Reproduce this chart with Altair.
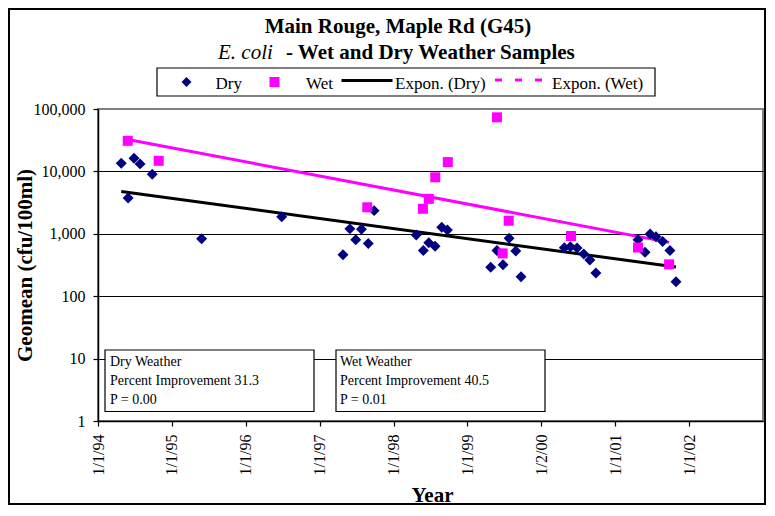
import altair as alt
import pandas as pd

# ---------------- data ----------------
dry_dates = ["1994-04-26", "1994-05-30", "1994-06-28", "1994-07-28", "1994-09-26",
             "1995-05-28", "1996-06-27",
             "1997-04-26", "1997-05-30", "1997-06-28", "1997-07-26", "1997-08-29", "1997-09-27",
             "1998-04-23", "1998-05-28", "1998-06-24", "1998-07-25", "1998-08-27", "1998-09-24",
             "1999-04-26", "1999-05-27", "1999-06-26", "1999-07-26", "1999-08-28", "1999-09-23",
             "2000-04-24", "2000-05-24", "2000-06-26", "2000-07-29", "2000-08-28", "2000-09-27",
             "2001-04-23", "2001-05-28", "2001-06-22", "2001-07-21", "2001-08-23", "2001-09-28",
             "2001-10-28"]
dry_values = [13500, 3750, 16200, 13200, 9000,
              830, 1880,
              460, 1200, 800, 1180, 700, 2350,
              960, 540, 720, 630, 1270, 1150,
              290, 540, 320, 850, 530, 205,
              600, 620, 590, 475, 380, 235,
              800, 505, 990, 900, 750, 540,
              170]

wet_dates = ["1994-05-28", "1994-10-28", "1997-08-24", "1998-05-26", "1998-06-24",
             "1998-07-26", "1998-09-26", "1999-05-27", "1999-06-24", "1999-07-24",
             "2000-05-27", "2001-04-23", "2001-09-24"]
wet_values = [30900, 14800, 2660, 2520, 3630, 8040, 14100, 73600, 486, 1620, 922, 603, 324]

x_tick_dates = [(1994, 1, 1), (1995, 1, 1), (1996, 1, 1), (1997, 1, 1), (1998, 1, 1),
                (1999, 1, 1), (2000, 1, 2), (2001, 1, 1), (2002, 1, 1)]
x_domain = [(1994, 1, 1), (2003, 1, 1)]
y_ticks = [1, 10, 100, 1000, 10000, 100000]

title_line1 = "Main Rouge, Maple Rd (G45)"
title_italic = "E. coli"
title_rest = "- Wet and Dry Weather Samples"
legend_labels = ["Dry", "Wet", "Expon. (Dry)", "Expon. (Wet)"]
dry_box_lines = ["Dry Weather", "Percent Improvement 31.3", "P = 0.00"]
wet_box_lines = ["Wet Weather", "Percent Improvement 40.5", "P = 0.01"]
x_title = "Year"
y_title = "Geomean (cfu/100ml)"

# ---------------- styling ----------------
FONT = "Liberation Serif"
NAVY = "#000080"
MAGENTA = "#FF00FF"

dry_df = pd.DataFrame({"date": dry_dates, "value": dry_values})
wet_df = pd.DataFrame({"date": wet_dates, "value": wet_values})


def dt(t):
    return alt.DateTime(year=t[0], month=t[1], date=t[2])


x_axis = alt.Axis(
    values=[dt(t) for t in x_tick_dates], format="%-m/%-d/%y", labelAngle=270,
    labelFont=FONT, labelFontSize=16, labelColor="black", labelPadding=8,
    labelFlush=False, labelOverlap=False,
    tickColor="black", tickSize=5, tickWidth=1.2, domainColor="black", domainWidth=1.5,
    grid=False, title=x_title, titleFont=FONT, titleFontSize=21, titleFontWeight="bold",
    titleColor="black", titleX=334, titleY=80, titleAlign="center", titleBaseline="alphabetic",
)
y_axis = alt.Axis(
    values=y_ticks, format=",", labelFont=FONT, labelFontSize=16, labelColor="black",
    labelPadding=8, tickColor="black", tickSize=5, tickWidth=1.2,
    domainColor="black", domainWidth=1.5,
    grid=True, gridWidth=1,
    gridColor={"condition": {"test": "datum.value >= 100000", "value": "#808080"}, "value": "black"},
    title=y_title, titleFont=FONT, titleFontSize=21, titleFontWeight="bold", titleColor="black",
    titleX=-73, titleY=156, titleAngle=270, titleAlign="center", titleBaseline="middle",
)
x_enc = alt.X("t:T", scale=alt.Scale(domain=[dt(d) for d in x_domain]), axis=x_axis)
y_enc = alt.Y("value:Q", scale=alt.Scale(type="log", domain=[1, 100000]), axis=y_axis)


def points(df, shape, color, size):
    return (alt.Chart(df)
            .transform_calculate(t="toDate(datum.date)")
            .mark_point(shape=shape, filled=True, color=color, size=size, opacity=1)
            .encode(x=x_enc, y=y_enc))


def trend(df, color):
    return (alt.Chart(df)
            .transform_calculate(t="toDate(datum.date)", ly="log(datum.value) / LN10")
            .transform_regression(on="t", regression="ly", method="linear")
            .transform_calculate(value="pow(10, datum.ly)")
            .mark_line(color=color, strokeWidth=3)
            .encode(x=x_enc, y=y_enc))


def label(text, x, y, size, weight="normal", style="normal", align="left", line_height=None):
    kw = dict(font=FONT, fontSize=size, fontWeight=weight, fontStyle=style, align=align,
              baseline="alphabetic", color="black")
    if line_height:
        kw.update(lineBreak="\n", lineHeight=line_height)
    return (alt.Chart(pd.DataFrame({"label": [text]}))
            .mark_text(**kw)
            .encode(x=alt.value(x), y=alt.value(y), text="label:N"))


def box(x1, x2, y1, y2, width=1.2):
    return (alt.Chart(pd.DataFrame({"k": [0]}))
            .mark_rect(fill="white", stroke="black", strokeWidth=width)
            .encode(x=alt.value(x1), x2=alt.value(x2), y=alt.value(y1), y2=alt.value(y2)))


one = pd.DataFrame({"k": [0]})

frame = (alt.Chart(one).mark_rect(fillOpacity=0, stroke="black", strokeWidth=2)
         .encode(x=alt.value(-89), x2=alt.value(667), y=alt.value(-100), y2=alt.value(395)))

title1 = label(title_line1, 300, -76, 21, weight="bold", align="center")
title2a = label(title_italic, 120, -50, 21, style="italic")
title2b = label(title_rest, 188, -50, 21, weight="bold")

legend_box = box(59, 557, -41, -13, width=1.2)
legend_diamond = (alt.Chart(one).mark_point(shape="diamond", filled=True, color=NAVY, size=100, opacity=1)
                  .encode(x=alt.value(88.5), y=alt.value(-27)))
legend_square = (alt.Chart(one).mark_point(shape="square", filled=True, color=MAGENTA, size=100, opacity=1)
                 .encode(x=alt.value(176.5), y=alt.value(-27)))
legend_line = (alt.Chart(one).mark_rule(color="black", strokeWidth=3)
               .encode(x=alt.value(243.5), x2=alt.value(294.5), y=alt.value(-28.5)))
legend_dash = (alt.Chart(one).mark_rule(color=MAGENTA, strokeWidth=3, strokeDash=[7, 13])
               .encode(x=alt.value(397), x2=alt.value(444), y=alt.value(-29)))
legend_texts = [label(legend_labels[0], 117.5, -20, 17),
                label(legend_labels[1], 208, -20, 17),
                label(legend_labels[2], 297, -20, 17),
                label(legend_labels[3], 454, -20, 17)]

dry_box = box(7, 216, 241, 302.5)
wet_box = box(238, 447, 241, 302.5)
dry_text = label("\n".join(dry_box_lines), 12, 257, 14, line_height=19)
wet_text = label("\n".join(wet_box_lines), 242, 257, 14, line_height=19)

chart = alt.layer(
    frame, title1, title2a, title2b,
    legend_box, legend_diamond, legend_square, legend_line, legend_dash, *legend_texts,
    dry_box, wet_box, dry_text, wet_text,
    trend(dry_df, "black"), trend(wet_df, MAGENTA),
    points(dry_df, "diamond", NAVY, 120), points(wet_df, "square", MAGENTA, 100),
).properties(
    width=665, height=312,
    autosize=alt.AutoSizeParams(type="none"),
    padding={"left": 90, "top": 101, "right": 4, "bottom": 85},
    background="white",
).configure_view(stroke="#808080", strokeWidth=2)

chart.save("out.html", embed_options={"renderer": "svg", "actions": False})
